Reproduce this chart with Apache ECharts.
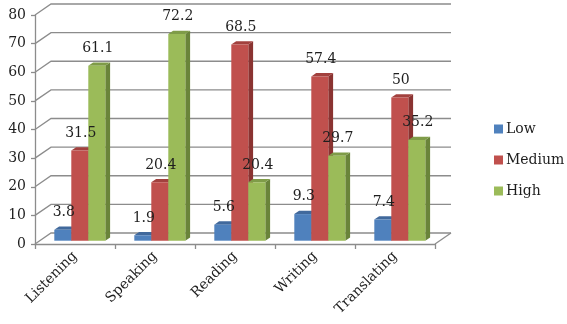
<!DOCTYPE html>
<html>
<head>
<meta charset="utf-8">
<script src="https://cdn.jsdelivr.net/npm/echarts@6/dist/echarts.min.js"></script>
<style>
  html, body { margin: 0; padding: 0; background: #fff; }
  #chart { width: 567px; height: 324px; }
</style>
</head>
<body>
<div id="chart"></div>
<script>
const categories = ['Listening', 'Speaking', 'Reading', 'Writing', 'Translating'];
const seriesNames = ['Low', 'Medium', 'High'];
const lowValues = [3.8, 1.9, 5.6, 9.3, 7.4];
const mediumValues = [31.5, 20.4, 68.5, 57.4, 50];
const highValues = [61.1, 72.2, 20.4, 29.7, 35.2];
const yTicks = [0, 10, 20, 30, 40, 50, 60, 70, 80];

const FONT = 'DejaVu Serif';
// depth of the 3d box (back wall offset) and where bars sit inside it
const WALL_DX = 16, WALL_DY = -11;
const BAR_D1 = 0.3, BAR_D2 = 0.6;

const colors = [
    { front: '#4f81bd', top: '#41699c', side: '#345884' },
    { front: '#c0504d', top: '#a2413e', side: '#8a3331' },
    { front: '#9bbb59', top: '#7f9c48', side: '#6a843a' }
];

function wallItem(params, api) {
    const cs = params.coordSys;
    const y = api.coord([0, api.value(0)])[1];
    const x0 = cs.x, x1 = cs.x + cs.width;
    const children = [{
        type: 'polyline',
        shape: { points: [[x0, y], [x0 + WALL_DX, y + WALL_DY], [x1 + WALL_DX, y + WALL_DY]] },
        style: { stroke: '#8c8c8c', lineWidth: 1.3, fill: null }
    }];
    if (api.value(0) === 0) {
        children.push({
            type: 'line',
            shape: { x1: x1, y1: y, x2: x1 + WALL_DX, y2: y + WALL_DY },
            style: { stroke: '#8c8c8c', lineWidth: 1.3 }
        });
    }
    return { type: 'group', children: children };
}

// geometry of one bar's front face
function barBox(si, api) {
    const cat = api.value(0), v = api.value(1);
    const band = api.size([1, 0])[0];
    const bw = band * 0.2125;
    const base = api.coord([cat, 0]);
    const top = api.coord([cat, v]);
    const xl = base[0] - 1.5 * bw + si * bw + WALL_DX * BAR_D1;
    return {
        v: v, xl: xl, xr: xl + bw, bw: bw,
        yt: top[1] + WALL_DY * BAR_D1,
        yb: base[1] + WALL_DY * BAR_D1,
        ddx: WALL_DX * (BAR_D2 - BAR_D1),
        ddy: WALL_DY * (BAR_D2 - BAR_D1)
    };
}

function barItem(si) {
    return function (params, api) {
        const b = barBox(si, api);
        const c = colors[si];
        return {
            type: 'group',
            children: [
                {
                    type: 'polygon',
                    shape: { points: [[b.xr, b.yt], [b.xr + b.ddx, b.yt + b.ddy], [b.xr + b.ddx, b.yb + b.ddy], [b.xr, b.yb]] },
                    style: { fill: c.side }
                },
                {
                    type: 'polygon',
                    shape: { points: [[b.xl, b.yt], [b.xl + b.ddx, b.yt + b.ddy], [b.xr + b.ddx, b.yt + b.ddy], [b.xr, b.yt]] },
                    style: { fill: c.top }
                },
                {
                    type: 'rect',
                    shape: { x: b.xl, y: b.yt, width: b.bw, height: b.yb - b.yt },
                    style: { fill: c.front }
                }
            ]
        };
    };
}

function labelItem(si) {
    return function (params, api) {
        const b = barBox(si, api);
        return {
            type: 'text',
            style: {
                text: String(b.v),
                x: b.xl + b.bw / 2 + 1,
                y: b.yt + b.ddy - 7,
                align: 'center',
                verticalAlign: 'bottom',
                font: '14px "' + FONT + '"',
                fill: '#1e1e1e'
            }
        };
    };
}

function toData(values) {
    return values.map(function (v, i) { return [i, v]; });
}

const chart = echarts.init(document.getElementById('chart'));
const valueSets = [lowValues, mediumValues, highValues];

const barSeries = seriesNames.map(function (name, si) {
    return {
        type: 'custom',
        name: name,
        z: 2 + si,
        itemStyle: { color: colors[si].front },
        renderItem: barItem(si),
        data: toData(valueSets[si]),
        encode: { x: 0, y: 1 }
    };
});
const labelSeries = seriesNames.map(function (name, si) {
    return {
        type: 'custom',
        name: name + ' label',
        z: 10,
        silent: true,
        renderItem: labelItem(si),
        data: toData(valueSets[si]),
        encode: { x: 0, y: 1 }
    };
});

chart.setOption({
    animation: false,
    textStyle: { fontFamily: FONT },
    grid: { left: 35, top: 15, width: 400, height: 229 },
    legend: {
        orient: 'vertical',
        left: 494,
        top: 122,
        padding: 0,
        itemWidth: 9,
        itemHeight: 9,
        itemGap: 17,
        icon: 'rect',
        textStyle: { fontFamily: FONT, fontSize: 14, color: '#1e1e1e', padding: [0, 0, 0, -2] },
        data: seriesNames
    },
    xAxis: {
        type: 'category',
        data: categories,
        axisLine: { lineStyle: { color: '#8c8c8c', width: 1.3 } },
        axisTick: { show: true, length: 5, lineStyle: { color: '#8c8c8c', width: 1.3 } },
        axisLabel: { rotate: 45, margin: 10, fontSize: 14, color: '#1e1e1e', fontFamily: FONT }
    },
    yAxis: {
        type: 'value',
        min: 0,
        max: 80,
        interval: 10,
        axisLine: { show: true, lineStyle: { color: '#8c8c8c', width: 1.3 } },
        axisTick: { show: true, length: 4, lineStyle: { color: '#8c8c8c', width: 1.3 } },
        axisLabel: { margin: 9, fontSize: 14, color: '#1e1e1e', fontFamily: FONT },
        splitLine: { show: false }
    },
    series: [
        {
            type: 'custom',
            name: 'wall',
            silent: true,
            z: 1,
            renderItem: wallItem,
            data: yTicks.map(function (t) { return [t]; }),
            encode: { y: 0 }
        }
    ].concat(barSeries, labelSeries)
});
</script>
</body>
</html>
